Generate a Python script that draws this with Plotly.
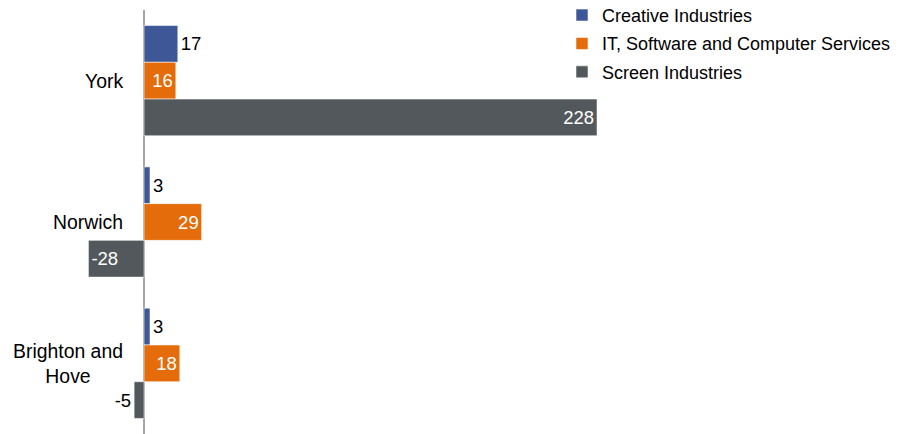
import plotly.graph_objects as go

# Places, ordered top to bottom
places = ["York", "Norwich", "Brighton and Hove"]
place_labels = ["York", "Norwich", "Brighton and<br>Hove"]

# Series values per place
creative = [17, 3, 3]
it_software = [16, 29, 18]
screen = [228, -28, -5]

series_names = ["Creative Industries", "IT, Software and Computer Services", "Screen Industries"]
series_colors = ["#3E5797", "#E46C0A", "#53585C"]

# Where each value label sits relative to its bar
label_pos = [
    ["outside", "outside", "outside"],
    ["inside", "inside", "inside"],
    ["inside", "inside", "outside"],
]

FONT = "Arial, Liberation Sans, sans-serif"
FS = 18.5

fig = go.Figure()
for name, vals, color, pos in zip(series_names, [creative, it_software, screen], series_colors, label_pos):
    fig.add_trace(go.Bar(
        y=places,
        x=vals,
        name=name,
        orientation="h",
        marker=dict(color=color, line=dict(color="rgba(255,255,255,0.55)", width=1)),
        text=[str(v) for v in vals],
        textposition=pos,
        insidetextanchor="end",
        insidetextfont=dict(color="white", size=FS, family=FONT),
        outsidetextfont=dict(color="black", size=FS, family=FONT),
        cliponaxis=False,
        legendgroup=name,
    ))

# Category labels, centred line-by-line
for lab, place in zip(place_labels, places):
    fig.add_annotation(
        x=125 / 903, xref="paper", xanchor="right",
        y=place, yref="y",
        text=lab, showarrow=False, align="center",
        font=dict(size=19.4, color="black", family=FONT),
    )

fig.update_layout(
    width=903, height=434,
    margin=dict(l=0, r=0, t=10, b=0, autoexpand=False),
    paper_bgcolor="white", plot_bgcolor="white",
    barmode="group",
    bargap=0.22,
    bargroupgap=0,
    font=dict(family=FONT, size=FS, color="black"),
    showlegend=True,
    legend=dict(
        x=562 / 903, xanchor="left",
        y=1.031, yanchor="top",
        yref="paper",
        font=dict(size=18, family=FONT, color="black"),
        tracegroupgap=2,
        bgcolor="rgba(0,0,0,0)",
    ),
    xaxis=dict(
        range=[-72.5, 382],
        showgrid=False, showticklabels=False, ticks="",
        zeroline=True, zerolinecolor="#A6A6A6", zerolinewidth=1.5,
        showline=False,
    ),
    yaxis=dict(
        autorange="reversed",
        showgrid=False, showticklabels=False, ticks="",
        zeroline=False, showline=False,
    ),
)

fig.write_html("out.html")
